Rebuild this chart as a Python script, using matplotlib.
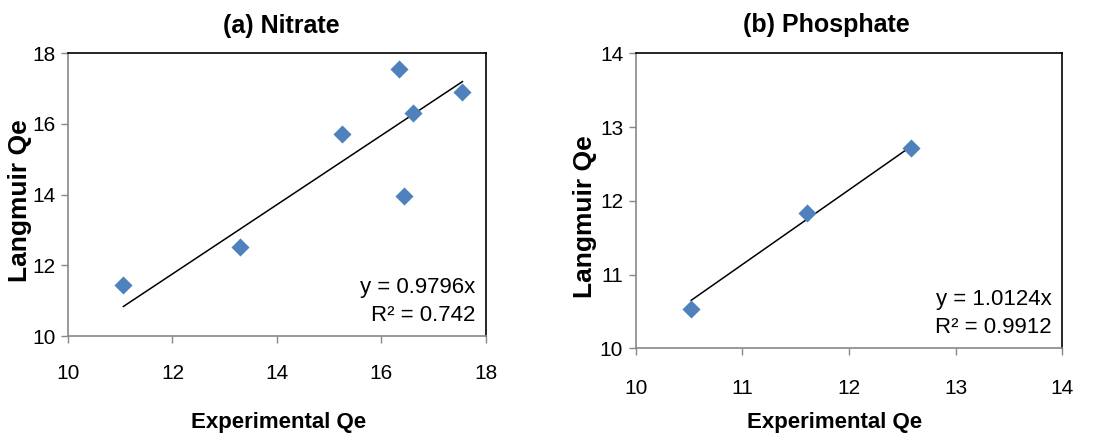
import numpy as np
import matplotlib
matplotlib.use('Agg')
import matplotlib.pyplot as plt

# Nitrate data
nitrate_exp = [11.06, 13.29, 15.24, 16.33, 16.60, 16.44, 17.55]
nitrate_lang = [11.44, 12.52, 15.71, 17.56, 16.29, 13.95, 16.90]
nitrate_slope = 0.9796
nitrate_r2 = '0.742'

# Phosphate data
phos_exp = [10.52, 11.61, 12.58]
phos_lang = [10.53, 11.84, 12.71]
phos_slope = 1.0124
phos_r2 = '0.9912'

NARROW = ['Liberation Sans Narrow', 'Liberation Sans', 'DejaVu Sans']
WIDE = ['Liberation Sans', 'DejaVu Sans']
BLUE = '#4F81BD'

fig = plt.figure(figsize=(11.11, 4.37), dpi=100)
ax1 = fig.add_axes([0.0612, 0.2311, 0.3762, 0.6476])
ax2 = fig.add_axes([0.5722, 0.2030, 0.3840, 0.6750])


def draw(ax, xs, ys, slope, r2, lim, ticks, title, xpad, title_x,
         xlab_pos, ylab_pos):
    ax.scatter(xs, ys, marker='D', s=85, color=BLUE, zorder=3, linewidths=0)
    xfit = np.array([min(xs), max(xs)])
    ax.plot(xfit, slope * xfit, color='black', lw=1.1, zorder=2)
    ax.set_xlim(lim)
    ax.set_ylim(lim)
    ax.set_xticks(ticks)
    ax.set_yticks(ticks)
    ax.tick_params(direction='out', length=5, color='#888888', width=1,
                   labelsize=15, labelfontfamily=NARROW)
    ax.tick_params(axis='x', pad=xpad)
    ax.tick_params(axis='y', pad=4)
    ax.spines['left'].set_color('#888888')
    ax.spines['bottom'].set_color('#888888')
    ax.spines['top'].set_color('black')
    ax.spines['right'].set_color('black')
    for sp in ax.spines.values():
        sp.set_linewidth(1.2)
    ax.text(title_x, 1.097, title, transform=ax.transAxes, ha='center',
            va='center', family=NARROW, fontsize=18, fontweight='bold')
    ax.set_xlabel('Experimental Qe', family=NARROW, fontsize=16,
                  fontweight='bold', va='center', ha='center')
    ax.xaxis.set_label_coords(*xlab_pos)
    ax.set_ylabel('Langmuir Qe', family=WIDE, fontsize=19,
                  fontweight='bold', va='center', ha='center')
    ax.yaxis.set_label_coords(*ylab_pos)
    ax.text(0.975, 0.035, 'y = %sx\nR² = %s' % (('%.4f' % slope).rstrip('0'), r2),
            transform=ax.transAxes, ha='right', va='bottom',
            family=NARROW, fontsize=16, linespacing=1.45)


draw(ax1, nitrate_exp, nitrate_lang, nitrate_slope, nitrate_r2,
     (10, 18), [10, 12, 14, 16, 18], '(a) Nitrate', 15, 0.51,
     (0.504, -0.304), (-0.115, 0.48))
draw(ax2, phos_exp, phos_lang, phos_slope, phos_r2,
     (10, 14), [10, 11, 12, 13, 14], '(b) Phosphate', 17, 0.448,
     (0.465, -0.25), (-0.119, 0.448))

fig.savefig('out.png', dpi=100)
